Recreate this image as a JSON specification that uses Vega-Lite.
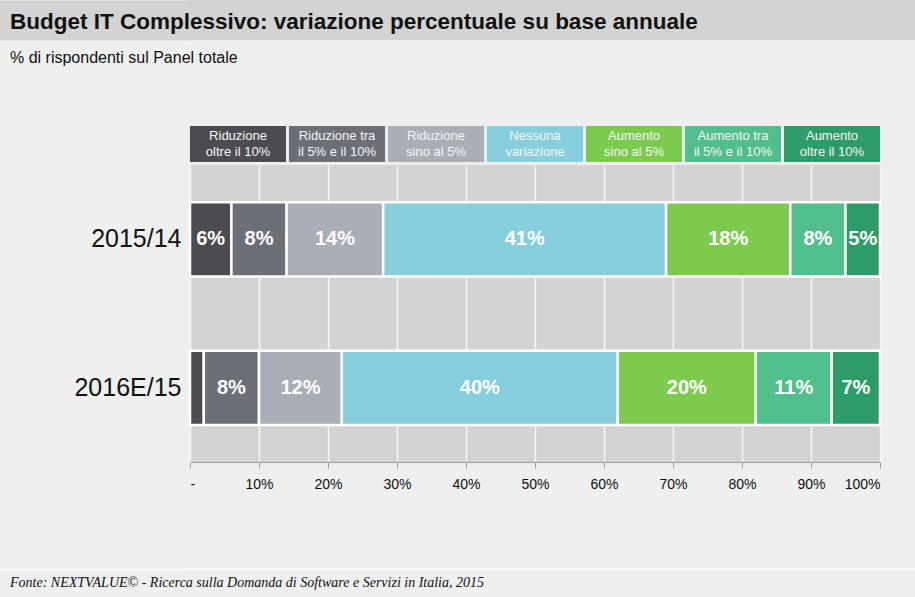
{
  "$schema": "https://vega.github.io/schema/vega-lite/v6.json",
  "background": "#efefef",
  "padding": {"left": 0, "top": 0, "right": 0, "bottom": 12},
  "columns": 1,
  "bounds": "full",
  "spacing": 10,
  "config": {
    "font": "Liberation Sans",
    "view": {"stroke": null},
    "title": {"font": "Liberation Sans"},
    "axis": {"labelFont": "Liberation Sans"}
  },
  "datasets": {
    "cats": [
      {"cat": "Riduzione oltre il 10%", "hdr": ["Riduzione", "oltre il 10%"]},
      {"cat": "Riduzione tra il 5% e il 10%", "hdr": ["Riduzione tra", "il 5% e il 10%"]},
      {"cat": "Riduzione sino al 5%", "hdr": ["Riduzione", "sino al 5%"]},
      {"cat": "Nessuna variazione", "hdr": ["Nessuna", "variazione"]},
      {"cat": "Aumento sino al 5%", "hdr": ["Aumento", "sino al 5%"]},
      {"cat": "Aumento tra il 5% e il 10%", "hdr": ["Aumento tra", "il 5% e il 10%"]},
      {"cat": "Aumento oltre il 10%", "hdr": ["Aumento", "oltre il 10%"]}
    ],
    "bars": [
      {"year": "2015/14", "k": 1, "cat": "Riduzione oltre il 10%", "value": 6, "lbl": "6%"},
      {"year": "2015/14", "k": 2, "cat": "Riduzione tra il 5% e il 10%", "value": 8, "lbl": "8%"},
      {"year": "2015/14", "k": 3, "cat": "Riduzione sino al 5%", "value": 14, "lbl": "14%"},
      {"year": "2015/14", "k": 4, "cat": "Nessuna variazione", "value": 41, "lbl": "41%"},
      {"year": "2015/14", "k": 5, "cat": "Aumento sino al 5%", "value": 18, "lbl": "18%"},
      {"year": "2015/14", "k": 6, "cat": "Aumento tra il 5% e il 10%", "value": 8, "lbl": "8%"},
      {"year": "2015/14", "k": 7, "cat": "Aumento oltre il 10%", "value": 5, "lbl": "5%"},
      {"year": "2016E/15", "k": 1, "cat": "Riduzione oltre il 10%", "value": 2, "lbl": ""},
      {"year": "2016E/15", "k": 2, "cat": "Riduzione tra il 5% e il 10%", "value": 8, "lbl": "8%"},
      {"year": "2016E/15", "k": 3, "cat": "Riduzione sino al 5%", "value": 12, "lbl": "12%"},
      {"year": "2016E/15", "k": 4, "cat": "Nessuna variazione", "value": 40, "lbl": "40%"},
      {"year": "2016E/15", "k": 5, "cat": "Aumento sino al 5%", "value": 20, "lbl": "20%"},
      {"year": "2016E/15", "k": 6, "cat": "Aumento tra il 5% e il 10%", "value": 11, "lbl": "11%"},
      {"year": "2016E/15", "k": 7, "cat": "Aumento oltre il 10%", "value": 7, "lbl": "7%"}
    ]
  },
  "concat": [
    {
      "width": 725,
      "height": 40,
      "view": {"fill": "#d3d3d3", "stroke": null},
      "data": {"values": [{"r": "a"}]},
      "mark": {"type": "point", "opacity": 0},
      "encoding": {
        "y": {
          "field": "r",
          "type": "nominal",
          "axis": {"title": null, "labels": false, "ticks": false, "grid": false, "domainColor": "#d3d3d3", "domainWidth": 191, "domainCap": "butt", "offset": 95}
        }
      },
      "title": {
        "text": "Budget IT Complessivo: variazione percentuale su base annuale",
        "anchor": "start",
        "frame": "group",
        "orient": "top",
        "offset": -33,
        "dx": -180,
        "fontSize": 22.5,
        "fontWeight": "bold",
        "color": "#111111"
      }
    },
    {
      "spacing": 3,
      "vconcat": [
        {
          "width": 690,
          "height": 36,
          "data": {"name": "cats"},
          "title": {
            "text": "% di rispondenti sul Panel totale",
            "anchor": "start",
            "frame": "group",
            "dx": -180,
            "offset": 60,
            "fontSize": 16,
            "fontWeight": "normal",
            "color": "#111111"
          },
          "encoding": {
            "x": {
              "field": "cat",
              "type": "nominal",
              "sort": null,
              "axis": null,
              "scale": {"paddingInner": 0.03, "paddingOuter": 0}
            }
          },
          "layer": [
            {
              "mark": {"type": "bar"},
              "encoding": {
                "color": {
                  "field": "cat",
                  "type": "nominal",
                  "legend": null,
                  "scale": {
                    "domain": ["Riduzione oltre il 10%", "Riduzione tra il 5% e il 10%", "Riduzione sino al 5%", "Nessuna variazione", "Aumento sino al 5%", "Aumento tra il 5% e il 10%", "Aumento oltre il 10%"],
                    "range": ["#4b4c51", "#6c6f77", "#aaaeb6", "#88cfdd", "#7dcb4e", "#51bf8b", "#2e9c69"]
                  }
                }
              }
            },
            {
              "mark": {"type": "text", "color": "#f6f6f6", "fontSize": 13, "lineHeight": 16, "baseline": "middle", "dy": -8},
              "encoding": {"text": {"field": "hdr"}}
            }
          ]
        },
        {
          "width": 690,
          "height": 297,
          "view": {"fill": "#d3d3d3", "stroke": null},
          "data": {"name": "bars"},
          "encoding": {
            "y": {
              "field": "year",
              "type": "nominal",
              "sort": null,
              "scale": {"paddingInner": 0.5, "paddingOuter": 0.25},
              "axis": {
                "title": null,
                "ticks": false,
                "domain": false,
                "labelFontSize": 25,
                "labelColor": "#111111",
                "labelPadding": 9,
                "minExtent": 190
              }
            }
          },
          "layer": [
            {
              "mark": {"type": "bar", "stroke": "white", "strokeWidth": 2.5},
              "encoding": {
                "x": {
                  "field": "value",
                  "type": "quantitative",
                  "stack": "zero",
                  "scale": {"domain": [0, 100], "nice": false},
                  "axis": {
                    "title": null,
                    "values": [0, 10, 20, 30, 40, 50, 60, 70, 80, 90, 100],
                    "labelExpr": "datum.value === 0 ? '-' : datum.value + '%'",
                    "grid": true,
                    "gridColor": "#f7f7f7",
                    "gridWidth": 1.5,
                    "domainColor": "#a0a0a0",
                    "tickColor": "#a0a0a0",
                    "tickSize": 6,
                    "labelPadding": 9,
                    "labelFontSize": 14,
                    "labelColor": "#111111"
                  }
                },
                "color": {"field": "cat", "type": "nominal", "legend": null},
                "order": {"field": "k", "type": "quantitative"}
              }
            },
            {
              "mark": {"type": "text", "color": "white", "fontSize": 20, "fontWeight": "bold"},
              "encoding": {
                "x": {"field": "value", "type": "quantitative", "stack": "zero", "bandPosition": 0.5},
                "detail": {"field": "cat", "type": "nominal"},
                "order": {"field": "k", "type": "quantitative"},
                "text": {"field": "lbl"}
              }
            }
          ]
        }
      ]
    },
    {
      "width": 725,
      "height": 55,
      "data": {"values": []},
      "mark": "point"
    },
    {
      "width": 725,
      "height": 2,
      "view": {"fill": "#fafafa", "stroke": null},
      "data": {"values": [{"r": "a"}]},
      "mark": {"type": "point", "opacity": 0},
      "encoding": {
        "y": {
          "field": "r",
          "type": "nominal",
          "axis": {"title": null, "labels": false, "ticks": false, "grid": false, "domainColor": "#fafafa", "domainWidth": 191, "domainCap": "butt", "offset": 95}
        }
      },
      "title": {
        "text": "Fonte: NEXTVALUE© - Ricerca sulla Domanda di Software e Servizi in Italia, 2015",
        "orient": "bottom",
        "anchor": "start",
        "frame": "group",
        "offset": 4,
        "dx": -180,
        "font": "Liberation Serif",
        "fontStyle": "italic",
        "fontSize": 14,
        "fontWeight": "normal",
        "color": "#111111"
      }
    }
  ]
}
